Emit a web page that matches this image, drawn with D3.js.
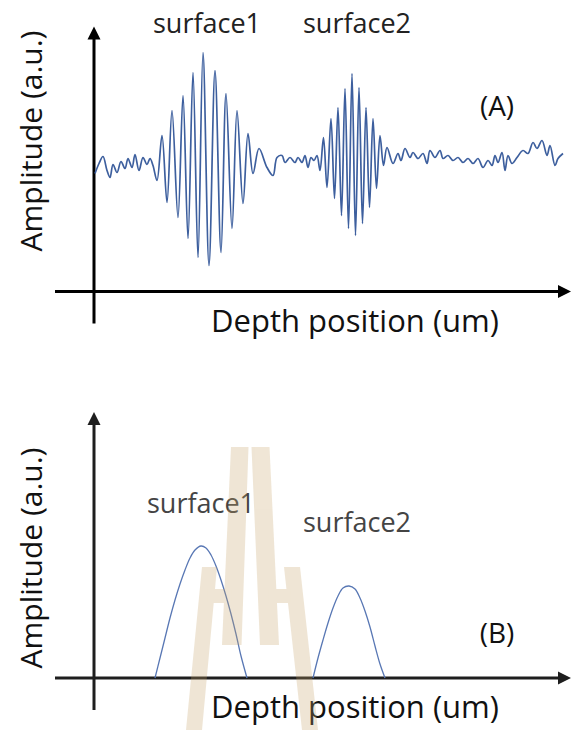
<!DOCTYPE html>
<html>
<head>
<meta charset="utf-8">
<script src="https://cdn.jsdelivr.net/npm/d3@7"></script>
<style>
  body { margin: 0; background: #fff; }
  text { font-family: "Open Sans", "Noto Sans", sans-serif; }
</style>
</head>
<body>
<script>
// raw interferogram (panel A): depth position vs amplitude, arbitrary units
const signalDepth = [1, 5, 9, 13, 16, 19, 23, 27, 31, 34, 38, 41, 45, 49, 53, 56, 59, 63,
    68, 73, 78, 84, 89, 94, 99, 104, 109, 115, 121, 127, 132, 138, 143, 149, 154, 159, 165,
    173, 179, 183, 188, 191, 196, 201, 204, 208, 211, 214, 217, 220, 223,
    226, 229.5, 233, 237, 240.5, 244, 247.5, 251, 254.5, 258, 261.5, 265, 268.5, 272, 275.5, 279, 282.5, 286, 289.5, 293,
    299, 304, 307, 311, 316, 319, 324, 329, 333, 336, 341, 346, 349, 354, 359, 364, 369, 374, 379, 384,
    389, 394, 398, 401, 404, 408, 411, 414, 418, 423, 429, 434, 439, 443, 448, 453, 456, 461, 464, 469];
const signalAmp = [118, 128, 135, 121, 114, 127, 119, 130, 123, 133, 124, 137, 121, 134, 127, 133, 126, 111,
    156, 89, 181, 74, 196, 53, 219, 34, 239, 26, 221, 39, 198, 63, 181, 88, 158, 118, 143,
    124, 116, 134, 136, 129, 134, 129, 134, 129, 136, 124, 134, 131, 136,
    121, 154, 104, 173, 93, 184, 76, 203, 63, 218, 56, 204, 68, 184, 84, 173, 103, 156, 126, 144,
    128, 138, 131, 143, 134, 139, 133, 138, 128, 141, 134, 141, 133, 136, 131, 134, 129, 133, 128, 133,
    124, 131, 126, 136, 129, 139, 121, 136, 128, 134, 141, 138, 149, 143, 151, 136, 146, 126, 133, 138];

// envelopes (panel B)
const env1Depth = [61, 66, 71, 76, 81, 86, 91, 96, 101, 107, 112, 117, 122, 127, 132, 137, 142, 147, 153];
const env1Amp = [0, 20, 40, 60, 78, 94, 108, 120, 128, 132, 130, 123, 112, 98, 82, 64, 44, 22, 0];
const env2Depth = [219, 224, 229, 234, 239, 244, 249, 255, 261, 266, 271, 276, 281, 286, 291];
const env2Amp = [0, 20, 38, 55, 70, 82, 90, 92, 89, 80, 67, 51, 32, 14, 0];

const surfaceLabels = ["surface1", "surface2"];
const panelTags = ["(A)", "(B)"];
const xTitle = "Depth position (um)";
const yTitle = "Amplitude (a.u.)";

const W = 571, H = 730;
const svg = d3.select("body").append("svg").attr("width", W).attr("height", H);

/** shared depth scale */
const x = d3.scaleLinear().domain([0, 477]).range([94, 571]);

/** one amplitude scale per panel */
const yA = d3.scaleLinear().domain([0, 265]).range([291.5, 26.5]);
const yB = d3.scaleLinear().domain([0, 266]).range([678, 412]);

function drawAxes(y, color, below) {
    let g = svg.append("g");
    let x0 = x(0), y0 = y(0);
    let top = y.range()[1], right = x.range()[1];
    // y axis, runs a bit below the x axis
    g.append("line")
        .attr("x1", x0).attr("x2", x0)
        .attr("y1", y0 + below).attr("y2", top + 10)
        .attr("stroke", color).attr("stroke-width", 3);
    g.append("path")
        .attr("d", `M${x0},${top} L${x0 - 6.5},${top + 13} L${x0 + 6.5},${top + 13} Z`)
        .attr("fill", color);
    // x axis, starts left of the y axis
    g.append("line")
        .attr("x1", x0 - 39).attr("x2", right - 10)
        .attr("y1", y0).attr("y2", y0)
        .attr("stroke", color).attr("stroke-width", 3);
    g.append("path")
        .attr("d", `M${right},${y0} L${right - 13},${y0 - 6.5} L${right - 13},${y0 + 6.5} Z`)
        .attr("fill", color);
}

function drawTitles(y, cy, tag, tagY) {
    svg.append("text")
        .attr("transform", `translate(42,${cy}) rotate(-90)`)
        .attr("text-anchor", "middle")
        .attr("font-size", 30)
        .attr("fill", "#111")
        .text(yTitle);
    svg.append("text")
        .attr("x", 355).attr("y", y(0) + 40)
        .attr("text-anchor", "middle")
        .attr("font-size", 31)
        .attr("fill", "#111")
        .text(xTitle);
    svg.append("text")
        .attr("x", 497).attr("y", tagY)
        .attr("text-anchor", "middle")
        .attr("font-size", 28)
        .attr("fill", "#111")
        .text(tag);
}

// ---------- panel A ----------
drawAxes(yA, "#000", 32);
drawTitles(yA, 141, panelTags[0], 116);

let signal = d3.zip(signalDepth, signalAmp);
svg.append("path")
    .datum(signal)
    .attr("fill", "none")
    .attr("stroke", "#3d5f9e")
    .attr("stroke-width", 1.7)
    .attr("d", d3.line()
        .x(d => x(d[0]))
        .y(d => yA(d[1]))
        .curve(d3.curveCatmullRom.alpha(0.5)));

svg.selectAll("text.labA")
    .data(surfaceLabels)
    .join("text")
    .attr("class", "labA")
    .attr("x", (d, i) => i === 0 ? 207 : 357)
    .attr("y", 33)
    .attr("text-anchor", "middle")
    .attr("font-size", 27)
    .attr("fill", "#222")
    .text(d => d);

// ---------- panel B ----------
drawAxes(yB, "#1e1e1e", 32);
drawTitles(yB, 558, panelTags[1], 643);

let envLine = d3.line()
    .x(d => x(d[0]))
    .y(d => yB(d[1]))
    .curve(d3.curveCatmullRom.alpha(0.5));

svg.selectAll("path.env")
    .data([d3.zip(env1Depth, env1Amp), d3.zip(env2Depth, env2Amp)])
    .join("path")
    .attr("class", "env")
    .attr("fill", "none")
    .attr("stroke", "#5877b4")
    .attr("stroke-width", 1.3)
    .attr("d", envLine);

svg.selectAll("text.labB")
    .data(surfaceLabels)
    .join("text")
    .attr("class", "labB")
    .attr("x", (d, i) => i === 0 ? 201 : 357)
    .attr("y", (d, i) => i === 0 ? 513 : 532)
    .attr("text-anchor", "middle")
    .attr("font-size", 27)
    .attr("fill", "#444")
    .text(d => d);

// watermark logo sitting over panel B
let wm = svg.append("g").attr("opacity", 0.28).attr("fill", "#c8a56a");
let logo = [
    [[231, 447], [248.5, 447], [241.5, 645], [222, 645]],
    [[251.5, 447], [269.5, 447], [279, 645], [260, 645]],
    [[202, 567], [217, 567], [202, 730], [186, 730]],
    [[284, 567], [300, 567], [318, 730], [302, 730]],
    [[208, 589], [232, 589], [231, 603], [207, 603]],
    [[268, 589], [290, 589], [291, 603], [269, 603]]
];
wm.selectAll("path")
    .data(logo)
    .join("path")
    .attr("d", d => "M" + d.join("L") + "Z");
</script>
</body>
</html>
